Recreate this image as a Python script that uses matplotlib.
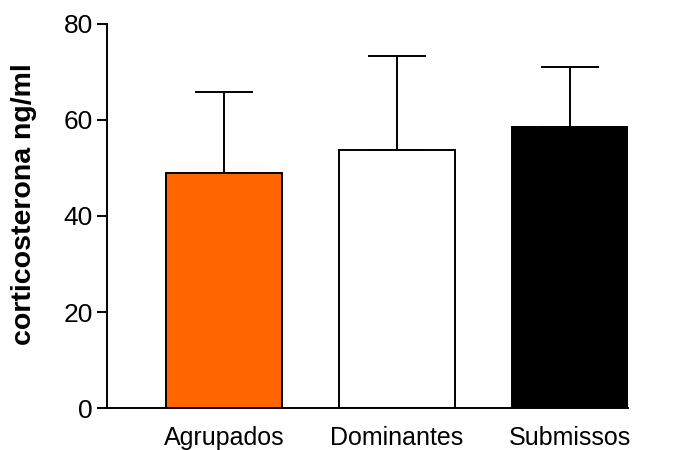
import matplotlib.pyplot as plt
import numpy as np

grupos = ["Agrupados", "Dominantes", "Submissos"]
medias = [49.0, 53.8, 58.6]
desvios = [16.8, 19.5, 12.4]
cores = ["#ff6600", "white", "black"]
yticks = [0, 20, 40, 60, 80]

plt.rcParams['font.family'] = ['Liberation Sans', 'DejaVu Sans']

fig = plt.figure(figsize=(6.73, 4.5), dpi=100)
ax = fig.add_axes([107 / 673, 42 / 450, 521 / 673, 384 / 450])

x = np.arange(len(grupos))
ax.bar(x, medias, width=0.67, color=cores, edgecolor="black", linewidth=1.4, zorder=2)

# so a barra de erro superior
ax.errorbar(x, medias, yerr=[np.zeros(len(x)), desvios], fmt="none",
            ecolor="black", elinewidth=1.4, capsize=21, capthick=1.4, zorder=1)

ax.set_xlim(-0.677, 2.336)
ax.set_ylim(0, 80)
ax.set_yticks(yticks)
ax.set_xticks(x)
ax.set_xticklabels(grupos, fontsize=18)
ax.tick_params(axis="y", labelsize=19, length=7, width=1.4, direction="out", pad=3)
ax.tick_params(axis="x", length=0, pad=13)

for s in ["top", "right"]:
    ax.spines[s].set_visible(False)
for s in ["left", "bottom"]:
    ax.spines[s].set_linewidth(1.4)

ax.set_ylabel("corticosterona ng/ml", fontsize=20.5, fontweight="bold")
ax.yaxis.set_label_coords(-0.135, 0.53)

fig.savefig("out.png", dpi=100)
